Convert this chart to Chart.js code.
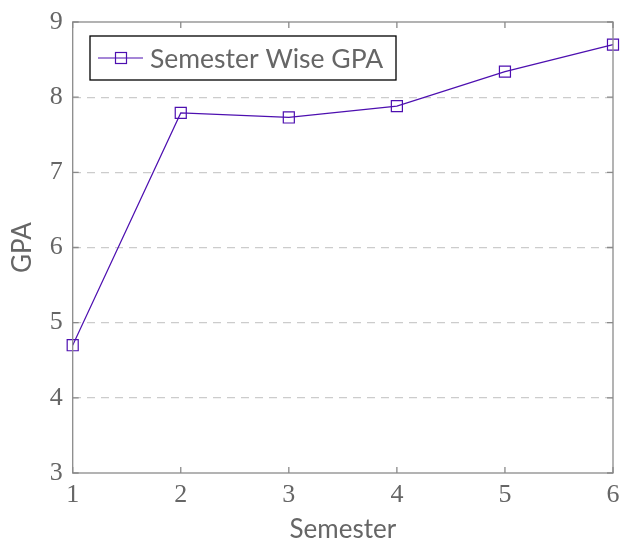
<!DOCTYPE html>
<html>
<head>
<meta charset="utf-8">
<script src="https://cdn.jsdelivr.net/npm/chart.js@4"></script>
<style>
html,body{margin:0;padding:0;background:#fff;}
#wrap{width:622px;height:538px;}
</style>
</head>
<body>
<div id="wrap"><canvas id="c" width="622" height="538"></canvas></div>
<script>
const semesters = [1, 2, 3, 4, 5, 6];
const gpaValues = [4.70, 7.79, 7.73, 7.88, 8.34, 8.70];
const seriesLabel = 'Semester Wise GPA';
const xTicks = [1, 2, 3, 4, 5, 6];
const yTicks = [3, 4, 5, 6, 7, 8, 9];

const lineColor = '#4d0fb0';
const axisColor = '#8a8a8a';
const textColor = '#666666';

const framePlugin = {
  id: 'frame',
  afterDatasetsDraw(chart) {
    const {ctx, chartArea: a, scales} = chart;
    ctx.save();
    ctx.strokeStyle = axisColor;
    ctx.lineWidth = 1.3;
    ctx.strokeRect(a.left, a.top, a.right - a.left, a.bottom - a.top);
    const t = 6;
    ctx.beginPath();
    xTicks.forEach(v => {
      const x = scales.x.getPixelForValue(v);
      ctx.moveTo(x, a.bottom); ctx.lineTo(x, a.bottom - t);
      ctx.moveTo(x, a.top); ctx.lineTo(x, a.top + t);
    });
    yTicks.forEach(v => {
      const y = scales.y.getPixelForValue(v);
      ctx.moveTo(a.left, y); ctx.lineTo(a.left + t, y);
      ctx.moveTo(a.right, y); ctx.lineTo(a.right - t, y);
    });
    ctx.stroke();
    // legend
    const bx = 90, by = 36, bw = 306, bh = 44;
    ctx.fillStyle = '#fff';
    ctx.fillRect(bx, by, bw, bh);
    ctx.strokeStyle = '#000';
    ctx.lineWidth = 1.3;
    ctx.strokeRect(bx, by, bw, bh);
    const my = by + bh / 2;
    ctx.strokeStyle = lineColor;
    ctx.lineWidth = 1.2;
    ctx.beginPath();
    ctx.moveTo(98, my); ctx.lineTo(143, my);
    ctx.stroke();
    ctx.strokeRect(121 - 5.5, my - 5.5, 11, 11);
    ctx.fillStyle = textColor;
    ctx.font = '26.5px Lato';
    ctx.textBaseline = 'middle';
    ctx.textAlign = 'left';
    ctx.fillText(chart.data.datasets[0].label, 150, my + 1);
    ctx.restore();
  }
};

new Chart(document.getElementById('c'), {
  type: 'line',
  data: {
    datasets: [{
      label: seriesLabel,
      data: semesters.map((s, i) => ({x: s, y: gpaValues[i]})),
      borderColor: lineColor,
      borderWidth: 1.2,
      pointStyle: 'rect',
      pointRadius: 7.8,
      pointHoverRadius: 7.8,
      pointBorderWidth: 1.2,
      pointBackgroundColor: 'rgba(0,0,0,0)',
      pointBorderColor: lineColor,
      tension: 0,
      clip: false
    }]
  },
  options: {
    responsive: false,
    animation: false,
    devicePixelRatio: 1,
    layout: {padding: {left: 0, right: 8, top: 22, bottom: 0}},
    plugins: {legend: {display: false}, tooltip: {enabled: false}},
    scales: {
      x: {
        type: 'linear', min: 1, max: 6,
        afterBuildTicks: s => { s.ticks = xTicks.map(v => ({value: v})); },
        afterFit: s => { s.height = 65; s.paddingLeft = 0; s.paddingRight = 0; },
        grid: {display: false, drawTicks: false},
        border: {display: false},
        ticks: {autoSkip: false, maxRotation: 0, padding: 7, color: textColor,
          font: {family: 'Liberation Serif', size: 26}},
        title: {display: true, text: 'Semester', color: textColor,
          font: {family: 'Lato', size: 26, lineHeight: 0.68}, padding: {top: 0, bottom: 0}}
      },
      y: {
        type: 'linear', min: 3, max: 9,
        afterBuildTicks: s => { s.ticks = yTicks.map(v => ({value: v})); },
        afterFit: s => { s.width = 72.7; s.paddingTop = 0; s.paddingBottom = 0; },
        grid: {
          drawTicks: false,
          color: ctx => (ctx.tick && (ctx.tick.value === 3 || ctx.tick.value === 9)) ? 'rgba(0,0,0,0)' : '#cccccc',
          lineWidth: 1.3
        },
        border: {display: false, dash: [8, 6]},
        ticks: {padding: 10, color: textColor,
          font: {family: 'Liberation Serif', size: 26}},
        title: {display: true, text: 'GPA', color: textColor,
          font: {family: 'Lato', size: 26, lineHeight: 1.0}, padding: {top: 10, bottom: 0}}
      }
    }
  },
  plugins: [framePlugin]
});
</script>
</body>
</html>
